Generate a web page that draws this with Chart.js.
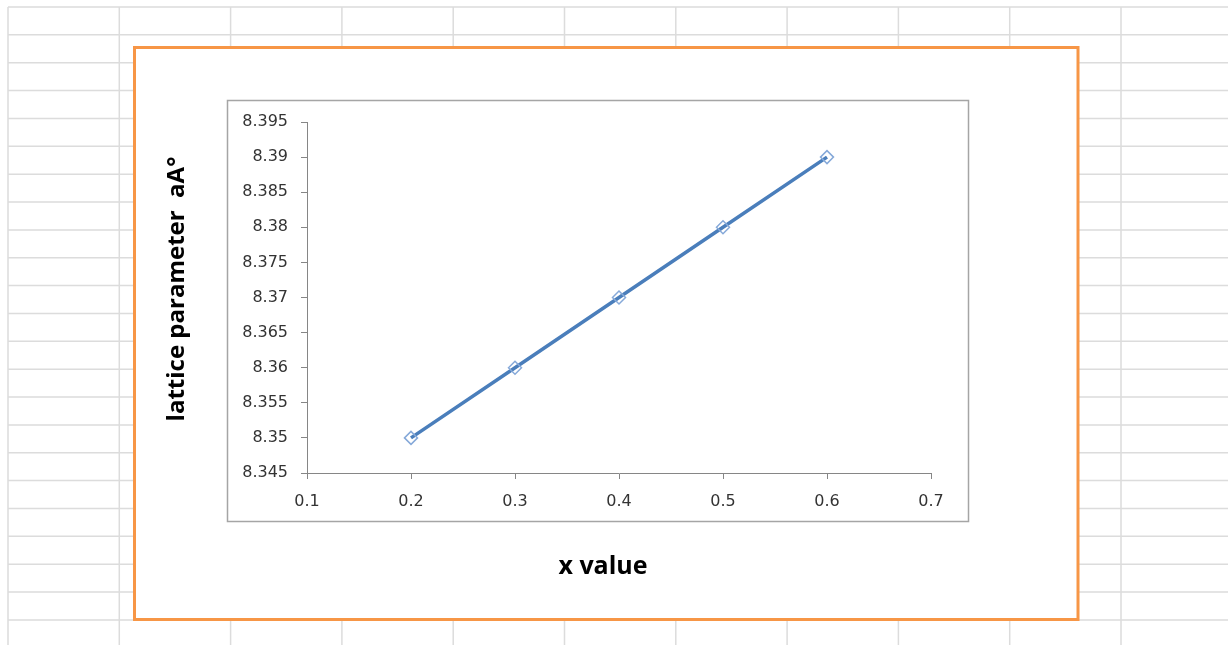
<!DOCTYPE html>
<html>
<head>
<meta charset="utf-8">
<title>lattice parameter vs x value</title>
<script src="https://cdn.jsdelivr.net/npm/chart.js@4.4.1/dist/chart.umd.min.js"></script>
<style>
  html, body { margin: 0; padding: 0; background: #fff; }
  canvas { display: block; }
</style>
</head>
<body>
<canvas id="lattice-chart" width="1228" height="645"></canvas>
<script>
const xValues = [0.2, 0.3, 0.4, 0.5, 0.6];
const latticeA = [8.35, 8.36, 8.37, 8.38, 8.39];
const xTickLabels = ['0.1', '0.2', '0.3', '0.4', '0.5', '0.6', '0.7'];
const yTickLabels = ['8.345', '8.35', '8.355', '8.36', '8.365', '8.37', '8.375', '8.38', '8.385', '8.39', '8.395'];
const xTitle = 'x value';
const yTitle = 'lattice parameter  aA°';

// Spreadsheet cells, the orange chart frame, the plot box and the axis titles
const sheetBackdrop = {
    id: 'sheetBackdrop',
    beforeDraw(chart) {
        const ctx = chart.ctx;
        const { width, height } = chart;
        ctx.save();
        ctx.fillStyle = '#fff';
        ctx.fillRect(0, 0, width, height);

        ctx.strokeStyle = '#dcdcdc';
        ctx.lineWidth = 1.5;
        ctx.beginPath();
        for (let x = 8; x < width; x += 111.3) {
            ctx.moveTo(x, 7);
            ctx.lineTo(x, height);
        }
        for (let y = 7; y < height; y += 27.86) {
            ctx.moveTo(8, y);
            ctx.lineTo(width, y);
        }
        ctx.stroke();

        ctx.fillStyle = '#fff';
        ctx.fillRect(134.5, 47.5, 943.5, 572);
        ctx.strokeStyle = '#f79646';
        ctx.lineWidth = 3;
        ctx.strokeRect(134.5, 47.5, 943.5, 572);

        ctx.strokeStyle = '#a5a5a5';
        ctx.lineWidth = 1.5;
        ctx.strokeRect(227.5, 100.5, 741, 421);

        ctx.fillStyle = '#000';
        ctx.textAlign = 'center';
        ctx.textBaseline = 'alphabetic';
        ctx.font = 'bold 25px "Open Sans"';
        ctx.fillText(xTitle, 603, 574);

        ctx.translate(184, 289);
        ctx.rotate(-Math.PI / 2);
        ctx.font = 'bold 24px "Open Sans"';
        ctx.fillText(yTitle, 0, 0);
        ctx.restore();
    }
};

const tickFont = { family: '"DejaVu Sans", Verdana, sans-serif', size: 16 };

const ctx = document.getElementById('lattice-chart').getContext('2d');

window.myChart = new Chart(ctx, {
    type: 'scatter',
    data: {
        datasets: [{
            label: 'lattice parameter',
            data: xValues.map((x, i) => ({ x, y: latticeA[i] })),
            showLine: true,
            borderColor: '#4a7ebb',
            borderWidth: 3.5,
            pointStyle: 'rectRot',
            pointRadius: 6.5,
            pointBorderColor: '#86a9d9',
            pointBackgroundColor: 'rgba(255, 255, 255, 0)',
            pointBorderWidth: 1.5
        }]
    },
    options: {
        responsive: false,
        animation: false,
        layout: {
            padding: { left: 200, top: 122, right: 297, bottom: 112 }
        },
        plugins: {
            legend: { display: false },
            tooltip: { enabled: false }
        },
        scales: {
            x: {
                type: 'linear',
                min: 0.1,
                max: 0.7,
                ticks: {
                    stepSize: 0.1,
                    padding: 13,
                    color: '#333',
                    font: tickFont,
                    maxRotation: 0,
                    callback: (value, index) => xTickLabels[index]
                },
                grid: { drawOnChartArea: false, tickLength: 6, color: '#868686' },
                border: { color: '#868686', width: 1 },
                afterFit(scale) { scale.height = 60; }
            },
            y: {
                type: 'linear',
                min: 8.345,
                max: 8.395,
                ticks: {
                    stepSize: 0.005,
                    padding: 13,
                    color: '#333',
                    font: tickFont,
                    callback: (value, index) => yTickLabels[index]
                },
                grid: { drawOnChartArea: false, tickLength: 6, color: '#868686' },
                border: { color: '#868686', width: 1 },
                afterFit(scale) { scale.width = 107; }
            }
        }
    },
    plugins: [sheetBackdrop]
});
</script>
</body>
</html>
